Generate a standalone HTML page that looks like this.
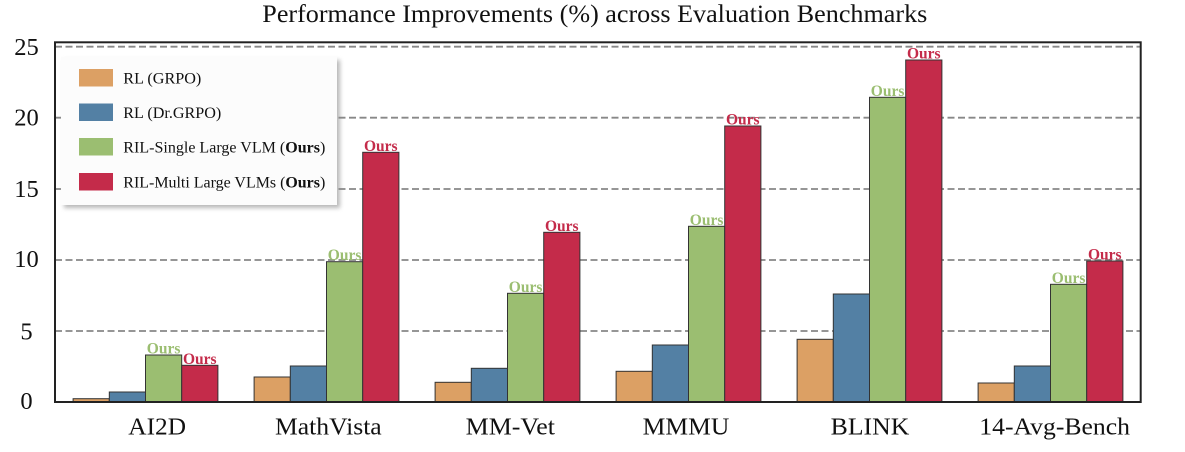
<!DOCTYPE html>
<html><head><meta charset="utf-8"><style>
html,body{margin:0;padding:0;background:#fff;}
svg{display:block;}
text{font-family:"Liberation Serif","Times New Roman",serif;fill:#111;}
</style></head><body>
<svg width="1185" height="452" viewBox="0 0 1185 452" xmlns="http://www.w3.org/2000/svg">
<defs>
<filter id="sh" x="-10%" y="-10%" width="130%" height="130%"><feGaussianBlur stdDeviation="2"/></filter>
</defs>
<rect x="0" y="0" width="1185" height="452" fill="#fff"/>
<!-- title -->
<text x="262.3" y="22" font-size="25" textLength="665" lengthAdjust="spacingAndGlyphs">Performance Improvements (%) across Evaluation Benchmarks</text>
<!-- grid -->
<g stroke="#888" stroke-width="1.8" stroke-dasharray="7 3.5">
<line x1="55" y1="46.7" x2="1141" y2="46.7"/>
<line x1="55" y1="117.7" x2="1141" y2="117.7"/>
<line x1="55" y1="189" x2="1141" y2="189"/>
<line x1="55" y1="260" x2="1141" y2="260"/>
<line x1="55" y1="331" x2="1141" y2="331"/>
</g>
<!-- bars -->
<g stroke="#333" stroke-width="1">
<!-- AI2D -->
<rect x="73.1" y="398.7" width="36.2" height="3.3" fill="#DCA064"/>
<rect x="109.3" y="392" width="36.2" height="10" fill="#5380A4"/>
<rect x="145.5" y="355" width="36.2" height="47" fill="#9BBE71"/>
<rect x="181.7" y="365.3" width="36.2" height="36.7" fill="#C42B4A"/>
<!-- MathVista -->
<rect x="254.1" y="377" width="36.2" height="25" fill="#DCA064"/>
<rect x="290.3" y="366" width="36.2" height="36" fill="#5380A4"/>
<rect x="326.5" y="261.7" width="36.2" height="140.3" fill="#9BBE71"/>
<rect x="362.7" y="152.3" width="36.2" height="249.7" fill="#C42B4A"/>
<!-- MM-Vet -->
<rect x="435.1" y="382.3" width="36.2" height="19.7" fill="#DCA064"/>
<rect x="471.3" y="368.3" width="36.2" height="33.7" fill="#5380A4"/>
<rect x="507.5" y="293.3" width="36.2" height="108.7" fill="#9BBE71"/>
<rect x="543.7" y="232.3" width="36.2" height="169.7" fill="#C42B4A"/>
<!-- MMMU -->
<rect x="616.1" y="371.3" width="36.2" height="30.7" fill="#DCA064"/>
<rect x="652.3" y="345" width="36.2" height="57" fill="#5380A4"/>
<rect x="688.5" y="226.3" width="36.2" height="175.7" fill="#9BBE71"/>
<rect x="724.7" y="126" width="36.2" height="276" fill="#C42B4A"/>
<!-- BLINK -->
<rect x="797.1" y="339.3" width="36.2" height="62.7" fill="#DCA064"/>
<rect x="833.3" y="294" width="36.2" height="108" fill="#5380A4"/>
<rect x="869.5" y="97.3" width="36.2" height="304.7" fill="#9BBE71"/>
<rect x="905.7" y="60" width="36.2" height="342" fill="#C42B4A"/>
<!-- 14-Avg -->
<rect x="978.1" y="383" width="36.2" height="19" fill="#DCA064"/>
<rect x="1014.3" y="366" width="36.2" height="36" fill="#5380A4"/>
<rect x="1050.5" y="284.3" width="36.2" height="117.7" fill="#9BBE71"/>
<rect x="1086.7" y="261" width="36.2" height="141" fill="#C42B4A"/>
</g>
<!-- Ours labels -->
<g font-size="15.5" font-weight="bold" text-anchor="middle">
<text x="163.6" y="353.5" style="fill:#9BBE71">Ours</text>
<text x="199.8" y="363.8" style="fill:#C42B4A">Ours</text>
<text x="344.6" y="260.2" style="fill:#9BBE71">Ours</text>
<text x="380.8" y="150.8" style="fill:#C42B4A">Ours</text>
<text x="525.6" y="291.8" style="fill:#9BBE71">Ours</text>
<text x="561.8" y="230.8" style="fill:#C42B4A">Ours</text>
<text x="706.6" y="224.8" style="fill:#9BBE71">Ours</text>
<text x="742.8" y="124.5" style="fill:#C42B4A">Ours</text>
<text x="887.6" y="95.8" style="fill:#9BBE71">Ours</text>
<text x="923.8" y="58.5" style="fill:#C42B4A">Ours</text>
<text x="1068.6" y="282.8" style="fill:#9BBE71">Ours</text>
<text x="1104.8" y="259.5" style="fill:#C42B4A">Ours</text>
</g>
<!-- spines -->
<rect x="55" y="42.3" width="1085.7" height="359.7" fill="none" stroke="#222" stroke-width="2"/>
<!-- y tick labels -->
<g font-size="24.5" text-anchor="middle">
<text x="26.5" y="55">25</text>
<text x="26.5" y="125.5">20</text>
<text x="26.5" y="197">15</text>
<text x="26.5" y="267">10</text>
<text x="26.5" y="339.5">5</text>
<text x="26.5" y="409">0</text>
</g>
<!-- x labels -->
<g font-size="24.5">
<text x="128.3" y="434.3" textLength="57.7" lengthAdjust="spacingAndGlyphs">AI2D</text>
<text x="275" y="434.3" textLength="106.7" lengthAdjust="spacingAndGlyphs">MathVista</text>
<text x="465.7" y="434.3" textLength="89.3" lengthAdjust="spacingAndGlyphs">MM-Vet</text>
<text x="642.7" y="434.3" textLength="86.6" lengthAdjust="spacingAndGlyphs">MMMU</text>
<text x="830.7" y="434.3" textLength="78.6" lengthAdjust="spacingAndGlyphs">BLINK</text>
<text x="979.3" y="434.3" textLength="150.7" lengthAdjust="spacingAndGlyphs">14-Avg-Bench</text>
</g>
<!-- legend -->
<rect x="64" y="60" width="276" height="148" fill="#888" opacity="0.6" filter="url(#sh)"/>
<rect x="61" y="57" width="276" height="148" fill="#fcfcfc"/>
<rect x="79" y="69" width="34" height="17.5" fill="#DCA064"/>
<rect x="79" y="103.5" width="34" height="17.5" fill="#5380A4"/>
<rect x="79" y="138" width="34" height="17.5" fill="#9BBE71"/>
<rect x="79" y="173" width="34" height="17.5" fill="#C42B4A"/>
<g font-size="16">
<text x="123.3" y="83.5" textLength="78" lengthAdjust="spacingAndGlyphs">RL (GRPO)</text>
<text x="123.3" y="118" textLength="98" lengthAdjust="spacingAndGlyphs">RL (Dr.GRPO)</text>
<text x="123.3" y="152.5" textLength="202" lengthAdjust="spacingAndGlyphs">RIL-Single Large VLM (<tspan font-weight="bold">Ours</tspan>)</text>
<text x="123.3" y="187.5" textLength="202" lengthAdjust="spacingAndGlyphs">RIL-Multi Large VLMs (<tspan font-weight="bold">Ours</tspan>)</text>
</g>
</svg>
</body></html>
